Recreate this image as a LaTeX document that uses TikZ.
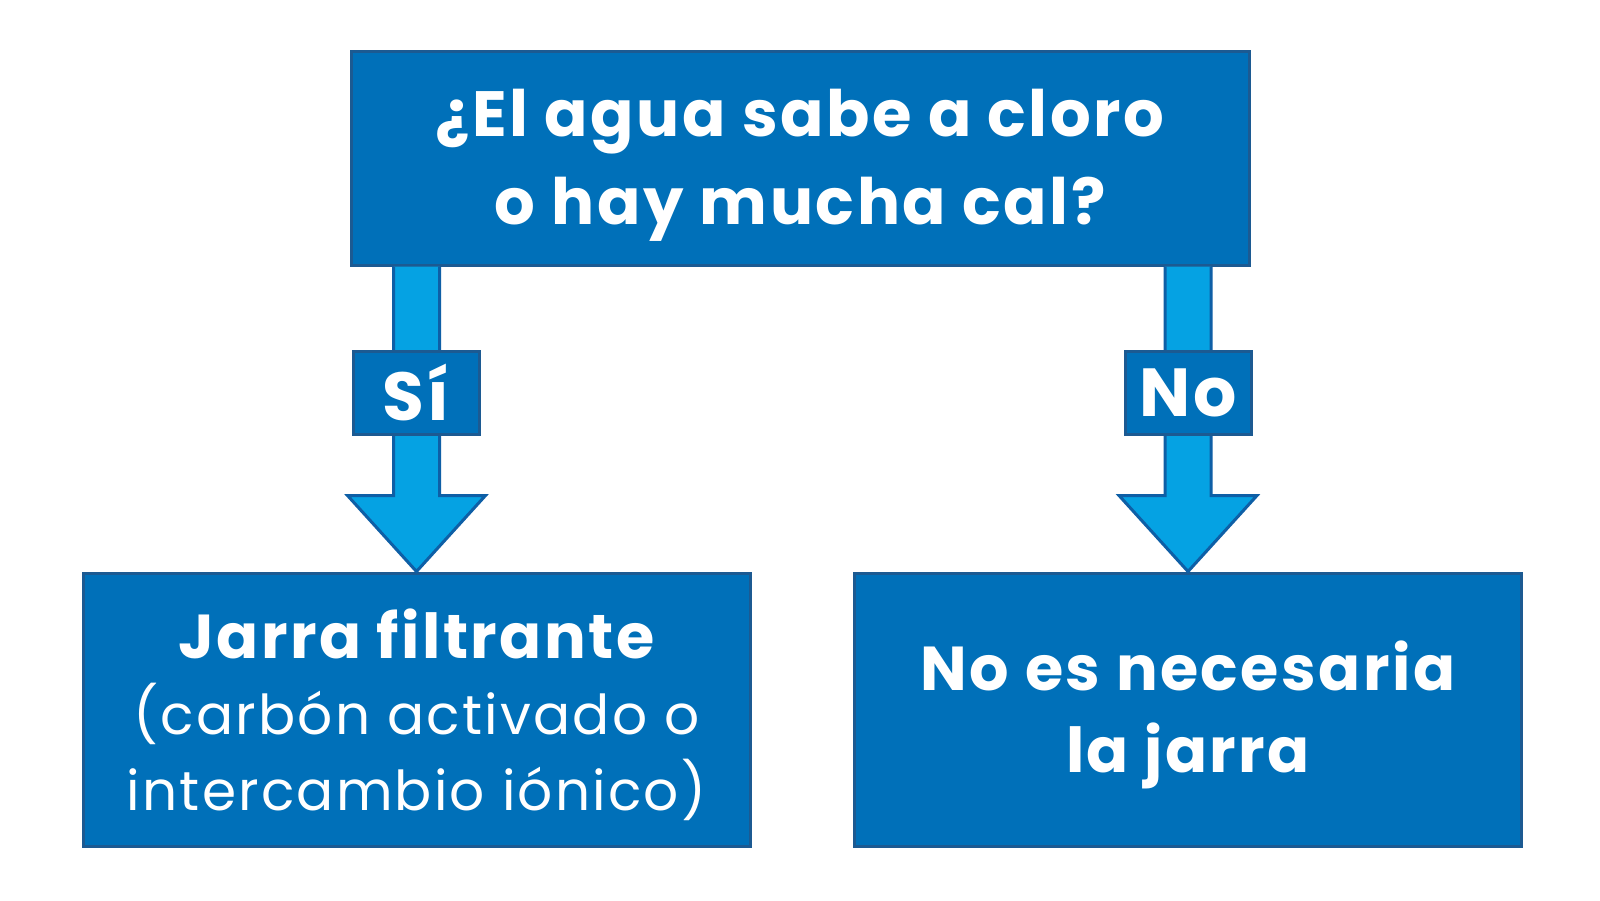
\documentclass[tikz,border=0pt]{standalone}
\usepackage{fontspec}
\setmainfont{Poppins}[LetterSpace=4]
\usetikzlibrary{calc}
\definecolor{boxfill}{HTML}{0070B9}
\definecolor{boxline}{HTML}{1C5A92}
\definecolor{arrfill}{HTML}{05A2E3}
\definecolor{arrline}{HTML}{0E5FA6}
\tikzset{
  box/.style={draw=boxline, line width=3pt, fill=boxfill, text=white, align=center, inner sep=0pt},
  qbox/.style={box, minimum width=898pt, minimum height=214pt, font=\bfseries\fontsize{64}{88}\selectfont},
  abox/.style={box, minimum width=667pt, minimum height=273pt},
  lbox/.style={box, minimum width=126pt, minimum height=83pt, font=\bfseries\fontsize{68}{70}\selectfont},
  bigarrow/.style={draw=arrline, line width=3pt, fill=arrfill, line join=miter},
}
\begin{document}
\begin{tikzpicture}[x=1pt,y=-1pt]
\useasboundingbox[fill=white] (0,0) rectangle (1600,900);
% nodes
\node[qbox] (q) at (800,158) {\rule{0pt}{62pt}¿El agua sabe a cloro\\o hay mucha cal?};
\node[abox, font=\fontsize{55}{76}\selectfont] (L) at (416.5,709.5) {{\bfseries\fontsize{62}{76}\selectfont \rule{0pt}{60pt}Jarra filtrante}\\(carbón activado o\\intercambio iónico)};
\node[abox, font=\bfseries\fontsize{62}{82}\selectfont] (R) at (1188,709.5) {\rule{0pt}{61pt}No es necesaria\\la jarra};
% arrows
\coordinate (lt) at (q.south -| L.north);
\coordinate (rt) at (q.south -| R.north);
\draw[bigarrow] ($(lt)+(-23,0)$) -- ($(L.north)+(-23,-76)$) -- ($(L.north)+(-69,-76)$) -- (L.north) -- ($(L.north)+(69,-76)$) -- ($(L.north)+(23,-76)$) -- ($(lt)+(23,0)$);
\draw[bigarrow] ($(rt)+(-23,0)$) -- ($(R.north)+(-23,-76)$) -- ($(R.north)+(-69,-76)$) -- (R.north) -- ($(R.north)+(69,-76)$) -- ($(R.north)+(23,-76)$) -- ($(rt)+(23,0)$);
% label boxes on the arrows
\node[lbox] (si) at (416,392.5) {Sí};
\node[lbox] (no) at (1188,392.5) {No};
\end{tikzpicture}
\end{document}
